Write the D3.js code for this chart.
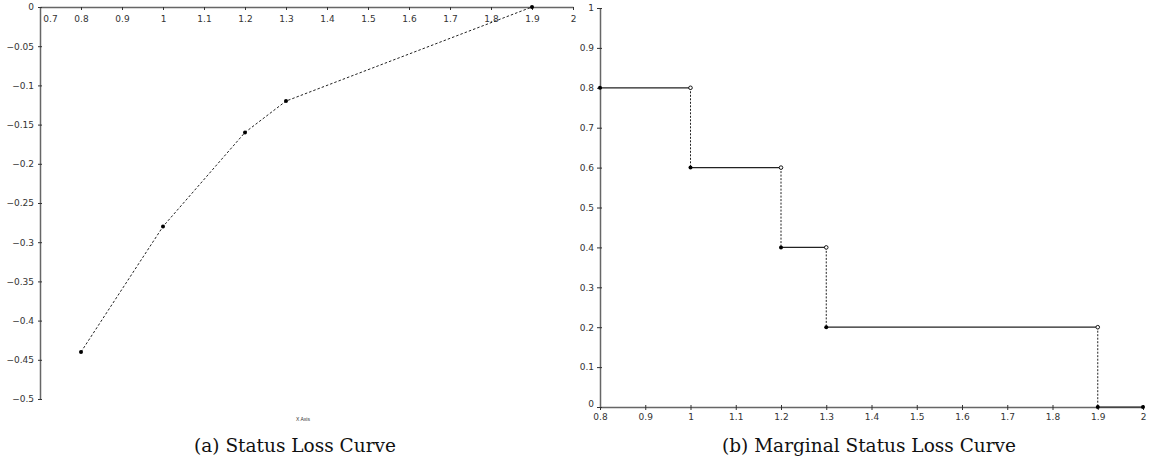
<!DOCTYPE html>
<html>
<head>
<meta charset="utf-8">
<script src="https://cdn.jsdelivr.net/npm/d3@7"></script>
<style>
  body { margin: 0; background: #fff; }
  .tick text { font-family: "DejaVu Sans", sans-serif; font-size: 9px; fill: #333; }
  .caption { font-family: "DejaVu Serif", serif; font-size: 18.5px; fill: #111; }
</style>
</head>
<body>
<script>
// status loss curve points
var lossX = [0.8, 1, 1.2, 1.3, 1.9];
var lossY = [-0.44, -0.28, -0.16, -0.12, 0];

// marginal status loss steps (value holds on [stepStart, stepEnd))
var stepStart = [0.8, 1, 1.2, 1.3, 1.9];
var stepEnd   = [1, 1.2, 1.3, 1.9, 2];
var stepValue = [0.8, 0.6, 0.4, 0.2, 0];

var leftXTicks  = [0.7, 0.8, 0.9, 1, 1.1, 1.2, 1.3, 1.4, 1.5, 1.6, 1.7, 1.8, 1.9, 2];
var leftYTicks  = [0, -0.05, -0.1, -0.15, -0.2, -0.25, -0.3, -0.35, -0.4, -0.45, -0.5];
var rightXTicks = [0.8, 0.9, 1, 1.1, 1.2, 1.3, 1.4, 1.5, 1.6, 1.7, 1.8, 1.9, 2];
var rightYTicks = [0, 0.1, 0.2, 0.3, 0.4, 0.5, 0.6, 0.7, 0.8, 0.9, 1];

var svg = d3.select("body").append("svg")
    .attr("width", 1154)
    .attr("height", 464);

var axisColor = "#666";

// ---------- left chart ----------
var x1 = d3.scaleLinear().domain([0.7, 2]).range([40, 573]);
var y1 = d3.scaleLinear().domain([-0.5, 0]).range([399, 7]);

var left = svg.append("g");

// x axis along the top (y = 0)
var gx1 = left.append("g")
    .attr("transform", "translate(0," + y1(0) + ")")
    .call(d3.axisBottom(x1).tickValues(leftXTicks).tickSize(3).tickSizeOuter(0).tickFormat(d3.format("")));
gx1.selectAll(".tick text").attr("dy", "0.95em")
    .attr("dx", function(d){ return d === 0.7 ? 10 : 0; });

var gy1 = left.append("g")
    .attr("transform", "translate(" + x1(0.7) + ",0)")
    .call(d3.axisLeft(y1).tickValues(leftYTicks).tickSize(3).tickSizeOuter(0)
        .tickFormat(function(d){ return d3.format("")(d).replace("-", "\u2212"); }));
gy1.selectAll(".tick line").attr("x2", -2).attr("x1", 2);

[gx1, gy1].forEach(function(g){
    g.select(".domain").attr("stroke", axisColor).attr("stroke-width", 1.5);
    g.selectAll(".tick line").attr("stroke", "#333");
});

left.append("path")
    .datum(lossX.map(function(d, i){ return [d, lossY[i]]; }))
    .attr("fill", "none")
    .attr("stroke", "#222")
    .attr("stroke-width", 1)
    .attr("stroke-dasharray", "2.5,2")
    .attr("d", d3.line().x(function(d){ return x1(d[0]); }).y(function(d){ return y1(d[1]); }));

left.selectAll(".pt")
    .data(lossX)
    .enter().append("circle")
    .attr("cx", function(d){ return x1(d); })
    .attr("cy", function(d, i){ return y1(lossY[i]); })
    .attr("r", 2)
    .attr("fill", "#000");

left.append("text")
    .attr("x", 303).attr("y", 421)
    .attr("text-anchor", "middle")
    .style("font-family", "Liberation Sans, sans-serif")
    .style("font-size", "5px")
    .attr("fill", "#333")
    .text("X Axis");

left.append("text")
    .attr("class", "caption")
    .attr("x", 295).attr("y", 452)
    .attr("text-anchor", "middle")
    .text("(a) Status Loss Curve");

// ---------- right chart ----------
var x2 = d3.scaleLinear().domain([0.8, 2]).range([600, 1143]);
var y2 = d3.scaleLinear().domain([0, 1]).range([407, 8]);

var right = svg.append("g");

var gx2 = right.append("g")
    .attr("transform", "translate(0," + y2(0) + ")")
    .call(d3.axisBottom(x2).tickValues(rightXTicks).tickSize(3).tickSizeOuter(0).tickFormat(d3.format("")));
gx2.selectAll(".tick line").attr("y1", -2);
gx2.selectAll(".tick text").attr("dy", "0.8em");

var gy2 = right.append("g")
    .attr("transform", "translate(" + x2(0.8) + ",0)")
    .call(d3.axisLeft(y2).tickValues(rightYTicks).tickSize(3).tickSizeOuter(0).tickFormat(d3.format("")));
gy2.selectAll(".tick line").attr("x1", 2);
gy2.selectAll(".tick text").attr("dy", function(d){ return d === 0 ? "-0.05em" : "0.32em"; });

[gx2, gy2].forEach(function(g){
    g.select(".domain").attr("stroke", axisColor).attr("stroke-width", 1.5);
    g.selectAll(".tick line").attr("stroke", "#333");
});

// horizontal solid segments
right.selectAll(".seg")
    .data(stepStart)
    .enter().append("line")
    .attr("x1", function(d){ return x2(d); })
    .attr("x2", function(d, i){ return x2(stepEnd[i]); })
    .attr("y1", function(d, i){ return y2(stepValue[i]); })
    .attr("y2", function(d, i){ return y2(stepValue[i]); })
    .attr("stroke", "#222")
    .attr("stroke-width", 1.2);

// dashed jumps
var jumps = d3.range(stepStart.length - 1);
right.selectAll(".jump")
    .data(jumps)
    .enter().append("line")
    .attr("x1", function(i){ return x2(stepEnd[i]); })
    .attr("x2", function(i){ return x2(stepEnd[i]); })
    .attr("y1", function(i){ return y2(stepValue[i]); })
    .attr("y2", function(i){ return y2(stepValue[i + 1]); })
    .attr("stroke", "#222")
    .attr("stroke-width", 1)
    .attr("stroke-dasharray", "2,1.5");

// filled dots at segment starts
right.selectAll(".closed")
    .data(stepStart)
    .enter().append("circle")
    .attr("cx", function(d){ return x2(d); })
    .attr("cy", function(d, i){ return y2(stepValue[i]); })
    .attr("r", 2)
    .attr("fill", "#000");

// open dots at segment ends (jumps), filled at the final end
right.selectAll(".open")
    .data(stepEnd)
    .enter().append("circle")
    .attr("cx", function(d){ return x2(d); })
    .attr("cy", function(d, i){ return y2(stepValue[i]); })
    .attr("r", function(d, i){ return i === stepEnd.length - 1 ? 2 : 1.8; })
    .attr("fill", function(d, i){ return i === stepEnd.length - 1 ? "#000" : "#fff"; })
    .attr("stroke", "#000")
    .attr("stroke-width", function(d, i){ return i === stepEnd.length - 1 ? 0 : 0.9; });

right.append("text")
    .attr("class", "caption")
    .attr("x", 869).attr("y", 452)
    .attr("text-anchor", "middle")
    .text("(b) Marginal Status Loss Curve");
</script>
</body>
</html>
